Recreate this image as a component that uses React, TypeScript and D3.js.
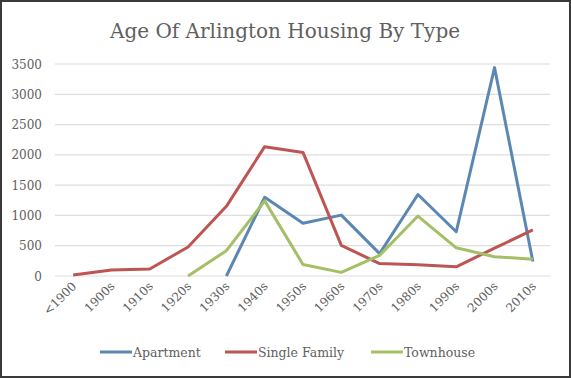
import React from "react";
import * as d3 from "d3";

const categories = ["<1900", "1900s", "1910s", "1920s", "1930s", "1940s", "1950s", "1960s", "1970s", "1980s", "1990s", "2000s", "2010s"];
const apartment: (number | null)[] = [null, null, null, null, 0, 1300, 870, 1005, 370, 1345, 730, 3440, 240];
const singleFamily: (number | null)[] = [15, 100, 115, 480, 1150, 2135, 2040, 505, 205, 185, 152, 460, 760];
const townhouse: (number | null)[] = [null, null, null, 0, 418, 1240, 190, 60, 340, 990, 465, 318, 278];
const yTicks = [0, 500, 1000, 1500, 2000, 2500, 3000, 3500];

const series = [
  { name: "Apartment", values: apartment, color: "#5b87b3" },
  { name: "Single Family", values: singleFamily, color: "#bd5553" },
  { name: "Townhouse", values: townhouse, color: "#a4bf66" },
];

const W = 571, H = 378;
const FONT = "'DejaVu Serif', 'Liberation Serif', serif";
const TEXT = "#606060";

export default function App() {
  const x = d3.scalePoint<string>().domain(categories).range([54, 552]).padding(0.5);
  const y = d3.scaleLinear().domain([0, 3500]).range([276, 64]);
  const line = d3
    .line<number | null>()
    .defined((d) => d !== null)
    .x((_, i) => x(categories[i]) as number)
    .y((d) => y(d as number));

  const legendItems = [
    { name: "Apartment", color: series[0].color, x0: 100 },
    { name: "Single Family", color: series[1].color, x0: 225 },
    { name: "Townhouse", color: series[2].color, x0: 371 },
  ];

  return (
    <svg width={W} height={H} style={{ position: "absolute", left: 0, top: 0, background: "#fff" }}>
      <rect x={1} y={1} width={W - 2} height={H - 2} fill="#fff" stroke="#3a3a3a" strokeWidth={2} />
      <text x={285} y={38} textAnchor="middle" fontFamily={FONT} fontSize={20} fill={TEXT}>
        Age Of Arlington Housing By Type
      </text>
      {yTicks.map((t) => (
        <g key={t}>
          <line x1={55} x2={550} y1={y(t)} y2={y(t)} stroke="#dedede" strokeWidth={1.2} />
          <text x={42} y={y(t) + 4.5} textAnchor="end" fontFamily={FONT} fontSize={12} fill={TEXT}>
            {t}
          </text>
        </g>
      ))}
      {categories.map((c) => {
        const cx = (x(c) as number) + 4;
        const cy = 287;
        return (
          <text
            key={c}
            x={cx}
            y={cy}
            textAnchor="end"
            fontFamily={FONT}
            fontSize={12}
            fill={TEXT}
            transform={`rotate(-45 ${cx} ${cy})`}
          >
            {c}
          </text>
        );
      })}
      {series.map((s) => (
        <path key={s.name} d={line(s.values) || ""} fill="none" stroke={s.color} strokeWidth={3} strokeLinejoin="round" />
      ))}
      {legendItems.map((l) => (
        <g key={l.name}>
          <line x1={l.x0} x2={l.x0 + 32} y1={352} y2={352} stroke={l.color} strokeWidth={3} />
          <text x={l.x0 + 33} y={356.5} fontFamily={FONT} fontSize={12.5} fill={TEXT}>
            {l.name}
          </text>
        </g>
      ))}
    </svg>
  );
}
